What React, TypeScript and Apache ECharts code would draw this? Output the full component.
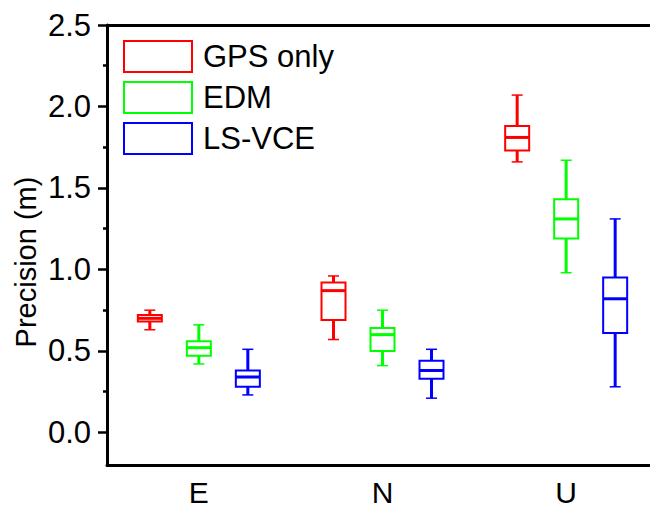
import React, { useEffect, useRef } from "react";
import * as echarts from "echarts";

const categories = ["E", "N", "U"];
const seriesNames = ["GPS only", "EDM", "LS-VCE"];
const seriesColors = ["#ff0000", "#00ff00", "#0000ff"];
// [min, Q1, median, Q3, max] per category
const gpsOnly = [
  [0.63, 0.68, 0.7, 0.72, 0.75],
  [0.57, 0.69, 0.87, 0.92, 0.96],
  [1.66, 1.73, 1.81, 1.88, 2.07],
];
const edm = [
  [0.42, 0.47, 0.52, 0.56, 0.66],
  [0.41, 0.5, 0.6, 0.64, 0.75],
  [0.98, 1.19, 1.31, 1.43, 1.67],
];
const lsVce = [
  [0.23, 0.28, 0.34, 0.38, 0.51],
  [0.21, 0.33, 0.38, 0.44, 0.51],
  [0.28, 0.61, 0.82, 0.95, 1.31],
];
const yMajorTicks = [0, 0.5, 1.0, 1.5, 2.0, 2.5];
const yMinorTicks = [0.25, 0.75, 1.25, 1.75, 2.25];
const yMin = -0.2;
const yMax = 2.5;

const FONT = "'Liberation Sans', Arial, Helvetica, sans-serif";

export default function App() {
  const ref = useRef<HTMLDivElement>(null);
  useEffect(() => {
    if (!ref.current) return;
    const chart = echarts.init(ref.current, null, { renderer: "svg" });
    const allSeries = [gpsOnly, edm, lsVce];
    const offsets = [-49, 0, 49];
    const boxW = 24;
    const capHalf = 5.5;

    const series: any[] = allSeries.map((vals, si) => ({
      type: "custom",
      name: seriesNames[si],
      data: vals.map((v, i) => [i, ...v]),
      encode: { x: 0, y: [1, 2, 3, 4, 5] },
      itemStyle: { color: seriesColors[si] },
      renderItem: (params: any, api: any) => {
        const idx = api.value(0);
        const pMin = api.coord([idx, api.value(1)]);
        const pQ1 = api.coord([idx, api.value(2)]);
        const pMed = api.coord([idx, api.value(3)]);
        const pQ3 = api.coord([idx, api.value(4)]);
        const pMax = api.coord([idx, api.value(5)]);
        const x = pMin[0] + offsets[si];
        const c = seriesColors[si];
        return {
          type: "group",
          children: [
            { type: "line", shape: { x1: x, y1: pMax[1], x2: x, y2: pQ3[1] }, style: { stroke: c, lineWidth: 3 } },
            { type: "line", shape: { x1: x, y1: pQ1[1], x2: x, y2: pMin[1] }, style: { stroke: c, lineWidth: 3 } },
            { type: "line", shape: { x1: x - capHalf, y1: pMax[1], x2: x + capHalf, y2: pMax[1] }, style: { stroke: c, lineWidth: 1.5 } },
            { type: "line", shape: { x1: x - capHalf, y1: pMin[1], x2: x + capHalf, y2: pMin[1] }, style: { stroke: c, lineWidth: 1.5 } },
            {
              type: "rect",
              shape: { x: x - boxW / 2, y: pQ3[1], width: boxW, height: pQ1[1] - pQ3[1] },
              style: { fill: "#ffffff", stroke: c, lineWidth: 2 },
            },
            { type: "line", shape: { x1: x - boxW / 2, y1: pMed[1], x2: x + boxW / 2, y2: pMed[1] }, style: { stroke: c, lineWidth: 3 } },
          ],
        };
      },
    }));
    // frame line along the top of the plot (y = axis max)
    series.push({
      type: "line",
      name: "frame",
      data: [],
      silent: true,
      markLine: {
        silent: true,
        symbol: ["none", "none"],
        label: { show: false },
        lineStyle: { color: "#000", width: 3, type: "solid" },
        data: [{ yAxis: yMax }],
      },
    });

    chart.setOption({
      animation: false,
      grid: {
        left: 107,
        top: 25,
        right: -2.5,
        bottom: 50,
      },
      legend: {
        orient: "vertical",
        left: 123,
        top: 40,
        padding: 0,
        itemWidth: 68,
        itemHeight: 31,
        itemGap: 8,
        textStyle: { fontFamily: FONT, fontSize: 31, color: "#000", padding: [0, 0, 0, 6] },
        data: seriesNames.map((n, i) => ({
          name: n,
          icon: "rect",
          itemStyle: { color: "#ffffff", borderColor: seriesColors[i], borderWidth: 2 },
        })),
      },
      xAxis: {
        type: "category",
        data: categories,
        boundaryGap: true,
        axisLine: { show: true, onZero: false, lineStyle: { color: "#000", width: 3 } },
        axisTick: { inside: true, length: 10, alignWithLabel: true, lineStyle: { color: "#000", width: 3 } },
        axisLabel: { fontFamily: FONT, fontSize: 30, color: "#000", margin: 12 },
        splitLine: { show: false },
      },
      yAxis: [
        {
          type: "value",
          min: yMin,
          max: yMax,
          axisLine: { show: true, onZero: false, lineStyle: { color: "#000", width: 3 } },
          axisTick: { show: true, length: 9, customValues: yMajorTicks, lineStyle: { color: "#000", width: 2.5 } },
          axisLabel: {
            fontFamily: FONT,
            fontSize: 31,
            color: "#000",
            margin: 16,
            customValues: yMajorTicks,
            formatter: (v: number) => v.toFixed(1),
          },
          splitLine: { show: false },
        },
        {
          type: "value",
          min: yMin,
          max: yMax,
          position: "left",
          offset: 0,
          axisLine: { show: false },
          axisTick: { show: true, length: 4, customValues: yMinorTicks, lineStyle: { color: "#000", width: 2.5 } },
          axisLabel: { show: false },
          splitLine: { show: false },
        },
      ],
      graphic: [
        {
          type: "text",
          x: 26,
          y: 262,
          rotation: Math.PI / 2,
          style: {
            text: "Precision (m)",
            fontFamily: FONT,
            fontSize: 29,
            fill: "#000",
            align: "center",
            verticalAlign: "middle",
          },
        },
      ],
      series,
    });
    return () => chart.dispose();
  }, []);
  return <div ref={ref} style={{ width: 658, height: 515, margin: -8 }} />;
}
